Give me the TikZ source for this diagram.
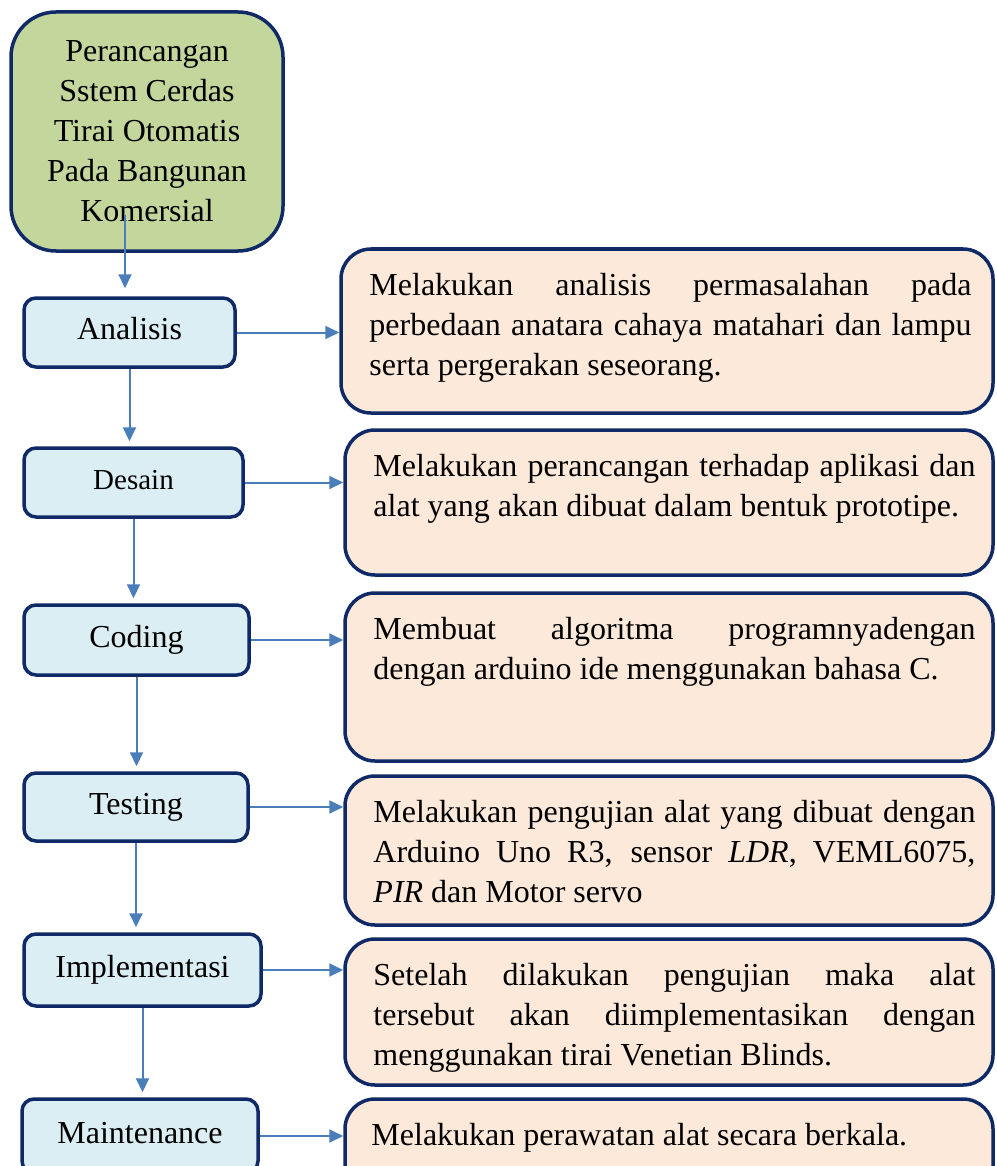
\documentclass[tikz,border=0pt]{standalone}
\usepackage{fontspec}
\setmainfont{Liberation Serif}
\usetikzlibrary{arrows.meta}
\definecolor{garis}{HTML}{0F2A66}
\definecolor{hijau}{HTML}{C3D69B}
\definecolor{biru}{HTML}{DAEEF3}
\definecolor{krem}{HTML}{FDE9D9}
\definecolor{panahbiru}{HTML}{4A7EBB}
\hyphenpenalty=10000
\tolerance=10000
\hbadness=10000

\begin{document}
\begin{tikzpicture}[x=1pt,y=-1pt,
  tahap/.style={draw=garis, line width=3.5pt, fill=biru, rounded corners=12pt, inner sep=0pt, font=\fontsize{32}{40}\selectfont, text height=22pt, text depth=8pt},
  desk/.style={draw=garis, line width=3.5pt, fill=krem, rounded corners=30pt, inner sep=0pt},
  teks/.style={text width=602pt, align=justify, inner sep=0pt, anchor=north west, font=\fontsize{32}{40}\selectfont},
  panah/.style={panahbiru, line width=2pt, -{Triangle[length=14pt,width=13pt]}}]
\useasboundingbox (0,0) rectangle (996,1166);

\node[draw=garis, line width=3.5pt, fill=hijau, rounded corners=45pt, minimum width=272pt, minimum height=239pt, align=center, font=\fontsize{32}{40}\selectfont] (judul) at (147,131.5) {Perancangan\\Sstem Cerdas\\Tirai Otomatis\\Pada Bangunan\\Komersial};

\node[tahap, minimum width=211pt, minimum height=69pt] (analisis) at (129.5,332.5) {Analisis};
\node[tahap, minimum width=219pt, minimum height=69pt, font=\fontsize{29}{36}\selectfont] (desain) at (133.5,482.5) {Desain};
\node[tahap, minimum width=225pt, minimum height=70pt] (coding) at (136.5,640) {Coding};
\node[tahap, minimum width=224pt, minimum height=68pt] (testing) at (136,807) {Testing};
\node[tahap, minimum width=237pt, minimum height=72pt] (implementasi) at (142.5,970) {Implementasi};
\node[tahap, minimum width=236pt, minimum height=74pt] (maintenance) at (140,1136) {Maintenance};

\node[desk, minimum width=652pt, minimum height=164pt] (d1) at (667,331) {};
\node[desk, minimum width=648pt, minimum height=145pt] (d2) at (669,502.5) {};
\node[desk, minimum width=648pt, minimum height=168pt] (d3) at (669,677) {};
\node[desk, minimum width=648pt, minimum height=149pt] (d4) at (669,850.5) {};
\node[desk, minimum width=648pt, minimum height=146pt] (d5) at (669,1012) {};
\node[desk, minimum width=648pt, minimum height=101pt] (d6) at (669,1149.5) {};

\node[teks] (t1) at ([xshift=30pt,yshift=-26pt]d1.north west) {Melakukan analisis permasalahan pada\linebreak perbedaan anatara cahaya matahari dan lampu\linebreak serta pergerakan seseorang.};
\node[teks] (t2) at ([xshift=30pt,yshift=-26pt]d2.north west) {Melakukan perancangan terhadap aplikasi dan\linebreak alat yang akan dibuat dalam bentuk prototipe.};
\node[teks] (t3) at ([xshift=30pt,yshift=-26pt]d3.north west) {Membuat algoritma programnyadengan\linebreak dengan arduino ide menggunakan bahasa C.};
\node[teks] (t4) at ([xshift=30pt,yshift=-26pt]d4.north west) {Melakukan pengujian alat yang dibuat dengan\linebreak Arduino Uno R3, sensor \textit{LDR}, VEML6075,\linebreak \textit{PIR} dan Motor servo};
\node[teks] (t5) at ([xshift=30pt,yshift=-26pt]d5.north west) {Setelah dilakukan pengujian maka alat\linebreak tersebut akan diimplementasikan dengan\linebreak menggunakan tirai Venetian Blinds.};
\node[teks] (t6) at ([xshift=28pt,yshift=-26pt]d6.north west) {Melakukan perawatan alat secara berkala.};

\coordinate (awal) at (125,215);
\draw[panah, shorten >=8pt] (awal) -- (awal |- analisis.north);
\foreach \a/\b in {analisis/desain, desain/coding, coding/testing, testing/implementasi, implementasi/maintenance}{
  \draw[panah, shorten >=5pt] (\a.south) -- (\a.south |- \b.north);
}
\foreach \a/\b in {analisis/d1, desain/d2, coding/d3, testing/d4, implementasi/d5, maintenance/d6}{
  \draw[panah] (\a.east) -- (\a.east -| \b.west);
}
\end{tikzpicture}
\end{document}
